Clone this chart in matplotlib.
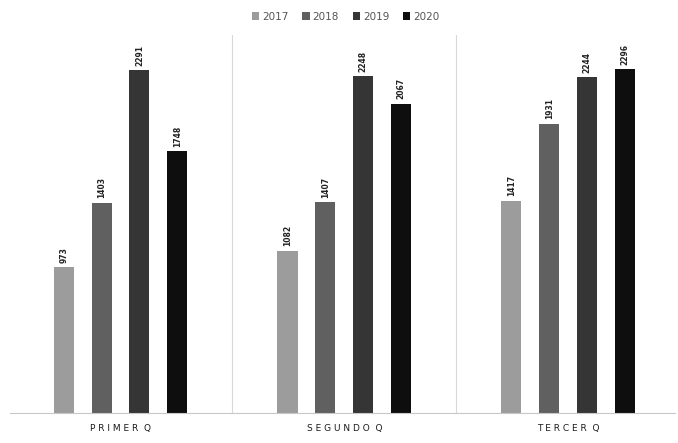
import numpy as np
import matplotlib.pyplot as plt

# Datos
categorias = ["P R I M E R  Q", "S E G U N D O  Q", "T E R C E R  Q"]
anios = ["2017", "2018", "2019", "2020"]
valores = {
    "2017": [973, 1082, 1417],
    "2018": [1403, 1407, 1931],
    "2019": [2291, 2248, 2244],
    "2020": [1748, 2067, 2296],
}
colores = ["#9c9c9c", "#606060", "#353535", "#0e0e0e"]

fig = plt.figure(figsize=(6.78, 4.43), dpi=100)
ax = fig.add_axes([0.015, 0.068, 0.98, 0.853])

x = np.arange(len(categorias))
paso = 0.169
ancho = 0.09

for i, anio in enumerate(anios):
    pos = x + (i - 1.5) * paso
    barras = ax.bar(pos, valores[anio], width=ancho, color=colores[i], label=anio)
    for b, v in zip(barras, valores[anio]):
        ax.text(b.get_x() + b.get_width() / 2, v + 30, str(v), rotation=90,
                ha="center", va="bottom", fontsize=5.5, fontweight="bold", color="#222222")

# Separadores entre trimestres
for s in [0.5, 1.5]:
    ax.axvline(s, color="#d8d8d8", linewidth=0.8)

ax.set_xlim(-0.493, 2.476)
ax.set_ylim(0, 2525)
ax.set_xticks(x)
ax.set_xticklabels(categorias, fontsize=6.5, color="#1a1a1a")
ax.tick_params(axis="x", length=0, pad=8)
ax.set_yticks([])
for lado in ["top", "right", "left"]:
    ax.spines[lado].set_visible(False)
ax.spines["bottom"].set_color("#c8c8c8")
ax.spines["bottom"].set_linewidth(0.8)

fig.legend(loc="upper center", bbox_to_anchor=(0.51, 0.995), ncol=4, frameon=False,
           fontsize=7.5, handlelength=0.7, handleheight=0.7, handletextpad=0.3,
           columnspacing=1.3, labelcolor="#555555")

plt.savefig("out.png", dpi=100)
